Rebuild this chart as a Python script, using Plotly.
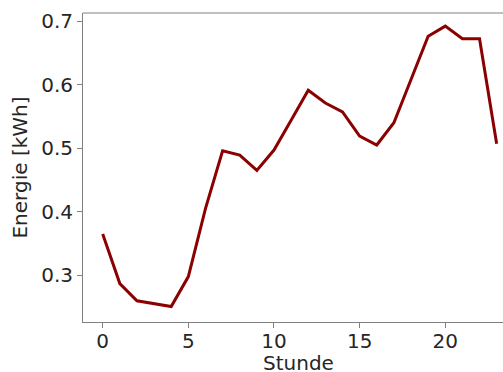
import plotly.graph_objects as go

# Hourly energy profile
stunden = list(range(24))
energie = [0.365, 0.287, 0.260, 0.256, 0.251, 0.298, 0.405, 0.496,
           0.489, 0.465, 0.497, 0.544, 0.591, 0.571, 0.557, 0.519,
           0.505, 0.540, 0.609, 0.676, 0.692, 0.672, 0.672, 0.507]
x_ticks = [0, 5, 10, 15, 20]
y_ticks = [0.3, 0.4, 0.5, 0.6, 0.7]

FONT = "DejaVu Sans"
FS = 20
SPINE = "#808080"
TEXT = "#262626"

fig = go.Figure()
fig.add_trace(go.Scatter(
    x=stunden, y=energie, mode="lines",
    line=dict(color="#8B0000", width=3),
    hoverinfo="skip", showlegend=False,
))

fig.update_layout(
    width=503, height=372,
    margin=dict(l=83, r=0, t=13, b=50),
    paper_bgcolor="white", plot_bgcolor="white",
    font=dict(family=FONT, size=FS, color=TEXT),
    xaxis=dict(
        range=[-1.15, 23.37], tickvals=x_ticks, ticktext=[str(v) for v in x_ticks],
        showgrid=False, zeroline=False,
        showline=True, linecolor=SPINE, linewidth=1,
        ticks="outside", ticklen=5, tickcolor=SPINE, tickwidth=1,
        ticklabelstandoff=-4,
        tickfont=dict(family=FONT, size=FS, color=TEXT),
    ),
    yaxis=dict(
        range=[0.2266, 0.7126], tickvals=y_ticks, ticktext=[f"{v:.1f}" for v in y_ticks],
        showgrid=False, zeroline=False,
        showline=True, linecolor=SPINE, linewidth=1,
        ticks="outside", ticklen=5, tickcolor=SPINE, tickwidth=1,
        tickfont=dict(family=FONT, size=FS, color=TEXT),
        title=dict(text="Energie [kWh]", font=dict(family=FONT, size=FS, color=TEXT), standoff=8),
    ),
)

# top frame line
fig.add_shape(type="line", xref="paper", yref="paper", x0=0, x1=1, y0=1, y1=1,
              line=dict(color=SPINE, width=1))

# x axis title, centred on the full axes box
fig.add_annotation(text="Stunde", xref="paper", yref="paper", x=0.514, y=0,
                   yshift=-27, yanchor="top", showarrow=False,
                   font=dict(family=FONT, size=FS, color=TEXT))

fig.write_html("out.html")
